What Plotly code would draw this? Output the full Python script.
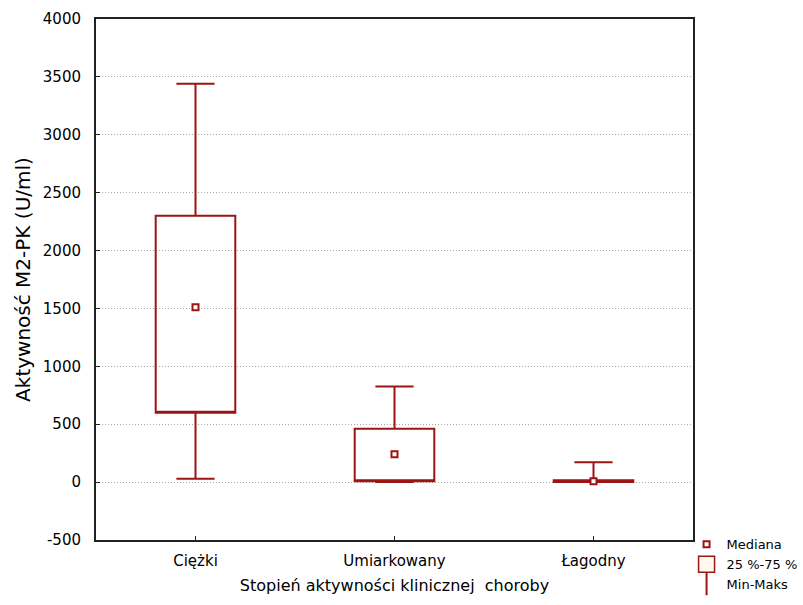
import plotly.graph_objects as go

categories = ["Ciężki", "Umiarkowany", "Łagodny"]
mins = [30, 0, 0]
q1s = [600, 8, 0]
medians = [1510, 240, 8]
q3s = [2300, 460, 15]
maxs = [3440, 825, 172]

y_ticks = [-500, 0, 500, 1000, 1500, 2000, 2500, 3000, 3500, 4000]
y_ticktext = [str(v) for v in y_ticks]

RED = "#9b1515"
FONT = "DejaVu Sans"

fig = go.Figure()

# box (25%-75%) with whiskers (min-max); median line hidden on the Q1 edge,
# the median itself is shown as a square marker
fig.add_trace(go.Box(
    x=categories,
    q1=q1s, median=q1s, q3=q3s,
    lowerfence=mins, upperfence=maxs,
    name="25 %-75 %",
    width=0.4,
    whiskerwidth=0.48,
    line=dict(color=RED, width=2),
    fillcolor="rgba(255,255,255,0)",
    boxpoints=False,
    showlegend=False,
    hoverinfo="skip",
))

fig.add_trace(go.Scatter(
    x=categories, y=medians, mode="markers", name="Mediana",
    marker=dict(symbol="square", size=6, color="white",
                line=dict(color=RED, width=2)),
))

# legend-only entries
fig.add_trace(go.Scatter(
    x=[None], y=[None], mode="markers", name="25 %-75 %",
    marker=dict(symbol="square", size=17, color="#fff8ee",
                line=dict(color=RED, width=1.5)),
))
fig.add_trace(go.Scatter(
    x=[None], y=[None], mode="markers", name="Min-Maks",
    marker=dict(symbol="line-ns", size=18,
                line=dict(color=RED, width=2)),
))

fig.update_layout(
    width=803, height=605,
    margin=dict(l=96, r=110, t=19, b=65, autoexpand=False),
    paper_bgcolor="white", plot_bgcolor="white",
    font=dict(family=FONT, size=15, color="black"),
    legend=dict(xref="container", yref="container",
                x=0.855, xanchor="left", y=0.125, yanchor="top",
                font=dict(size=13), bgcolor="rgba(0,0,0,0)",
                tracegroupgap=0, itemwidth=30),
    xaxis=dict(
        type="category", range=[-0.5, 2.5],
        showline=True, mirror=True, linecolor="#222", linewidth=2,
        ticks="inside", ticklen=4, tickcolor="#222",
        showgrid=False, zeroline=False,
        ticklabelstandoff=6,
        tickfont=dict(size=15),
        title=dict(text="Stopień aktywności klinicznej  choroby",
                   font=dict(size=16), standoff=11),
    ),
    yaxis=dict(
        range=[-500, 4000], tickvals=y_ticks, ticktext=y_ticktext,
        showline=True, mirror=True, linecolor="#222", linewidth=2,
        ticks="inside", ticklen=4, tickcolor="#222",
        showgrid=True, gridcolor="#a8a8a8", griddash="1px,2px", gridwidth=1,
        zeroline=False,
        ticklabelstandoff=10,
        tickfont=dict(size=15),
        title=dict(text="Aktywność M2-PK (U/ml)", font=dict(size=20),
                   standoff=7),
    ),
)

fig.write_html("out.html")
